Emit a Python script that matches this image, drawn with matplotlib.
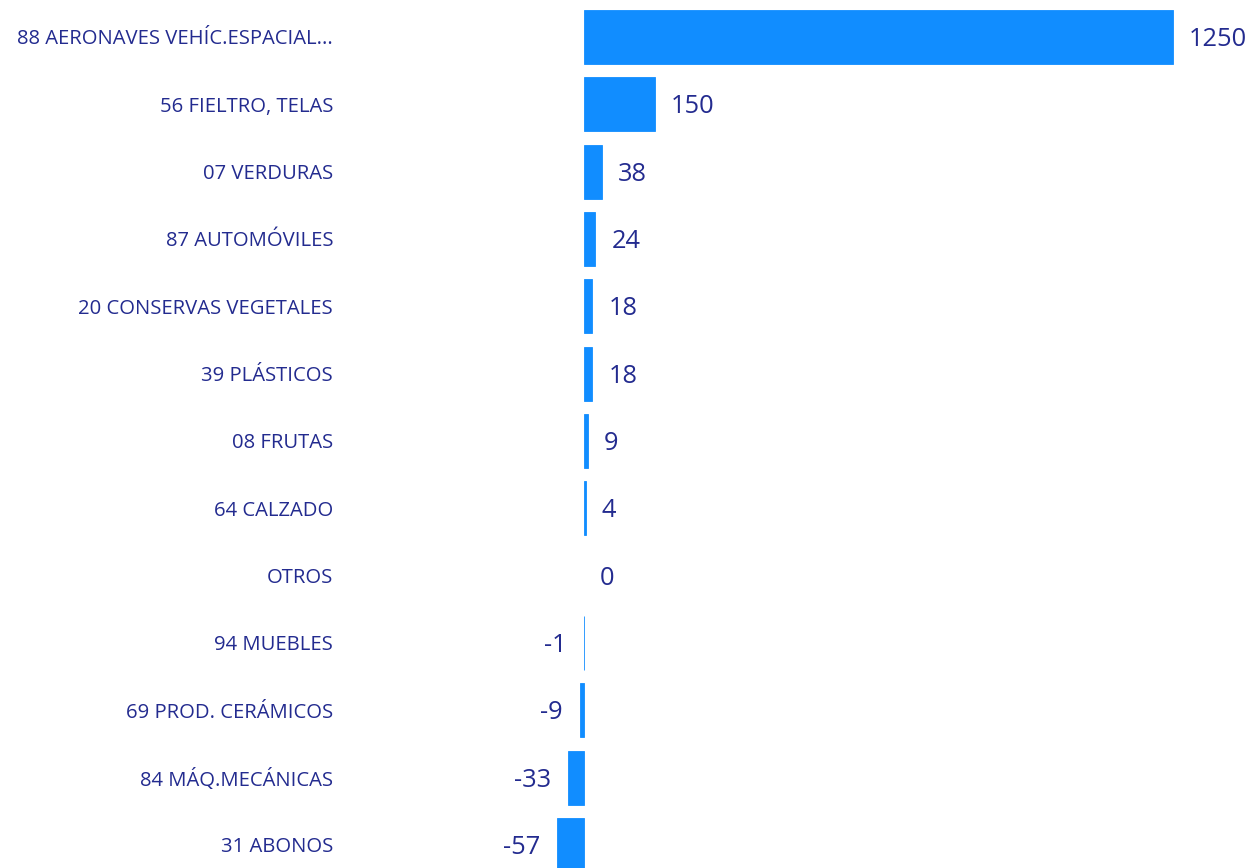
import matplotlib.pyplot as plt
from matplotlib.transforms import blended_transform_factory

CATEGORIES = [
    "88 AERONAVES VEHÍC.ESPACIAL...",
    "56 FIELTRO, TELAS",
    "07 VERDURAS",
    "87 AUTOMÓVILES",
    "20 CONSERVAS VEGETALES",
    "39 PLÁSTICOS",
    "08 FRUTAS",
    "64 CALZADO",
    "OTROS",
    "94 MUEBLES",
    "69 PROD. CERÁMICOS",
    "84 MÁQ.MECÁNICAS",
    "31 ABONOS",
]
VALUES = [1250, 150, 38, 24, 18, 18, 9, 4, 0, -1, -9, -33, -57]

BAR = "#118DFF"
TEXT = "#232B8F"

W, H = 1252, 868
ZERO_PX = 584
PX_PER_UNIT = 589 / 1250
ROW0_PX, ROW_PX = 37, 67.33


def main():
    plt.rcParams["font.family"] = ["Open Sans", "DejaVu Sans"]
    fig = plt.figure(figsize=(W / 100, H / 100), dpi=100)
    ax = fig.add_axes([0, 0, 1, 1])
    ax.set_xlim(-ZERO_PX / PX_PER_UNIT, (W - ZERO_PX) / PX_PER_UNIT)
    ax.set_ylim((H - ROW0_PX) / ROW_PX, -ROW0_PX / ROW_PX)
    ax.axis("off")

    y = range(len(CATEGORIES))
    # thin edge keeps the tiny bars (e.g. -1) visible, none for zero
    widths = [0 if v == 0 else 0.6 for v in VALUES]
    ax.barh(y, VALUES, height=0.8, color=BAR, edgecolor=BAR, linewidth=widths)

    trans = blended_transform_factory(ax.transAxes, ax.transData)
    for i, (name, v) in enumerate(zip(CATEGORIES, VALUES)):
        ax.annotate(name, (333 / W, i), xycoords=trans, xytext=(0, -2.5),
                    textcoords="offset pixels", ha="right", va="center",
                    fontsize=14.6, color=TEXT)
        if v >= 0:
            ax.annotate(str(v), (v, i), xytext=(16, -2.5), textcoords="offset pixels",
                        ha="left", va="center", fontsize=18.3, color=TEXT)
        else:
            ax.annotate(str(v), (v, i), xytext=(-17, -2.5), textcoords="offset pixels",
                        ha="right", va="center", fontsize=18.3, color=TEXT)

    fig.savefig("out.png", dpi=100, facecolor="white")
    plt.close(fig)


if __name__ == "__main__":
    main()
